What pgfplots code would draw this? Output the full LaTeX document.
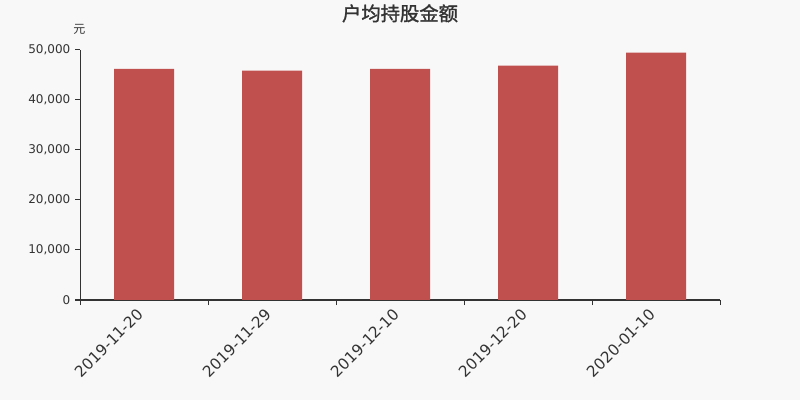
\documentclass[border=0pt]{standalone}
\usepackage{pgfplots}
\pgfplotsset{compat=1.18}
\usepackage{fontspec}
\setmainfont{DejaVu Sans}
\newfontfamily\cjk{Noto Sans CJK SC}
\newfontfamily\cjktitle[FakeBold=1.5]{Noto Sans CJK SC}
\definecolor{bgc}{HTML}{F8F8F8}
\definecolor{barc}{HTML}{C0504D}
\definecolor{axc}{HTML}{333333}

\begin{document}
\begin{tikzpicture}
\fill[bgc] (0,0) rectangle (600pt,300pt);
\path[use as bounding box] (0,0) rectangle (600pt,300pt);
\node[text=axc, font=\cjktitle\fontsize{14.5}{16}\selectfont] at (300pt,290pt) {户均持股金额};
\node[text=axc, font=\cjk\fontsize{9}{11}\selectfont] at (59.6pt,278.3pt) {元};
\begin{axis}[
    at={(60pt,75pt)}, anchor=south west,
    scale only axis, width=480pt, height=187.5pt,
    xmin=-0.5, xmax=4.5, ymin=0, ymax=50000,
    axis x line*=bottom, axis y line*=left,
    axis line style={axc, line width=0.75pt},
    ybar, bar width=45pt,
    xtick={-0.5,0.5,1.5,2.5,3.5,4.5},
    xticklabels={},
    x tick style={axc, line width=0.75pt},
    extra x ticks={0,1,2,3,4},
    extra x tick labels={2019-11-20,2019-11-29,2019-12-10,2019-12-20,2020-01-10},
    extra x tick style={major tick length=0pt, tick style={draw=none},
        xticklabel style={yshift=-6pt, rotate=45, anchor=east,
            font=\fontsize{11.5}{13}\selectfont, text=axc}},
    ytick={0,10000,20000,30000,40000,50000},
    y tick style={axc, line width=0.75pt},
    tick align=outside, major tick length=3.75pt,
    yticklabel style={font=\fontsize{9}{11}\selectfont, text=axc},
    /pgf/number format/assume math mode=true,
    /pgf/number format/1000 sep={,},
    scaled y ticks=false,
]
\addplot[fill=barc, draw=none] coordinates {
    (0, 46200)
    (1, 45870)
    (2, 46200)
    (3, 46870)
    (4, 49470)
};
\end{axis}
\end{tikzpicture}
\end{document}
